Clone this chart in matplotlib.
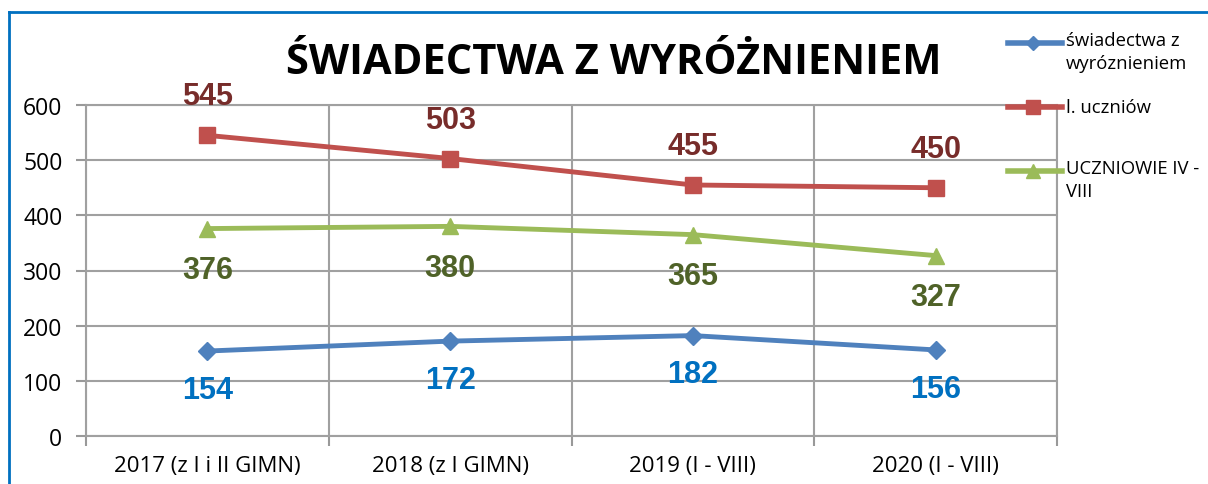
import numpy as np
import matplotlib.pyplot as plt
from matplotlib.lines import Line2D

categories = ['2017 (z I i II GIMN)', '2018 (z I GIMN)', '2019 (I - VIII)', '2020 (I - VIII)']
wyroznienia = [154, 172, 182, 156]
uczniowie = [545, 503, 455, 450]
uczniowie_4_8 = [376, 380, 365, 327]
series_names = ['świadectwa z\nwyróznieniem', 'l. uczniów', 'UCZNIOWIE IV -\nVIII']

BLUE = '#4F81BD'
RED = '#C0504D'
GREEN = '#9BBB59'

fig = plt.figure(figsize=(12.08, 4.85), dpi=100)
ax = fig.add_axes([86 / 1208, 1 - 437 / 485, (1057 - 86) / 1208, (437 - 106) / 485])

x = np.arange(len(categories))
l1, = ax.plot(x, wyroznienia, color=BLUE, lw=3.5, marker='D', ms=9, zorder=3)
l2, = ax.plot(x, uczniowie, color=RED, lw=3.5, marker='s', ms=12, zorder=3)
l3, = ax.plot(x, uczniowie_4_8, color=GREEN, lw=3.5, marker='^', ms=12, zorder=3)

lab_font = dict(family='Liberation Sans', fontweight='bold', fontsize=22)
for i in x:
    ax.annotate(str(uczniowie[i]), (i, uczniowie[i]), xytext=(0, 28), textcoords='offset points',
                ha='center', va='center', color='#772C2A', **lab_font)
    ax.annotate(str(uczniowie_4_8[i]), (i, uczniowie_4_8[i]), xytext=(0, -30), textcoords='offset points',
                ha='center', va='center', color='#4F6228', **lab_font)
    ax.annotate(str(wyroznienia[i]), (i, wyroznienia[i]), xytext=(0, -28), textcoords='offset points',
                ha='center', va='center', color='#0070C0', **lab_font)

ax.set_xlim(-0.5, 3.5)
ax.set_ylim(0, 600)
ax.set_yticks(range(0, 601, 100))
ax.set_xticks(np.arange(-0.5, 3.6, 1.0))
ax.set_xticklabels([])
ax.set_xticks(x, minor=True)
ax.set_xticklabels(categories, minor=True, fontsize=16, family='Open Sans')
ax.tick_params(axis='x', which='minor', length=0, pad=14)
ax.tick_params(axis='x', which='major', length=7, color='#999999', width=1.5, direction='out')
ax.tick_params(axis='y', length=7, color='#999999', width=1.5, labelsize=16.5, pad=10)
for lbl in ax.get_yticklabels():
    lbl.set_family('Open Sans')
ax.grid(True, which='major', color='#A0A0A0', lw=1.5)
for s in ax.spines.values():
    s.set_color('#A0A0A0')
    s.set_linewidth(1.5)

fig.text(614 / 1208, 1 - 63 / 485, 'ŚWIADECTWA Z WYRÓŻNIENIEM', ha='center', va='center',
         fontsize=30, fontweight='bold', family='Open Sans')

# legend drawn by hand on the right side
leg_y = [44, 108, 172]
for line, name, yy in zip([l1, l2, l3], series_names, leg_y):
    yf = 1 - yy / 485
    fig.add_artist(Line2D([1008 / 1208, 1062 / 1208], [yf, yf], color=line.get_color(), lw=4,
                          transform=fig.transFigure))
    fig.add_artist(Line2D([1033 / 1208], [yf], color=line.get_color(), marker=line.get_marker(),
                          ms=line.get_markersize() * 0.8, transform=fig.transFigure))
    if '\n' in name:
        fig.text(1066 / 1208, yf + 12 / 485, name, ha='left', va='top', fontsize=13.3,
                 family='Open Sans', linespacing=1.35)
    else:
        fig.text(1066 / 1208, yf, name, ha='left', va='center', fontsize=13.3, family='Open Sans')

# outer chart frame (left and top edges visible)
fig.add_artist(Line2D([9 / 1208, 9 / 1208], [0, 1 - 13 / 485], color='#0070C0', lw=2,
                      transform=fig.transFigure))
fig.add_artist(Line2D([9 / 1208, 1], [1 - 13 / 485, 1 - 13 / 485], color='#0070C0', lw=2,
                      transform=fig.transFigure))

fig.savefig('out.png', dpi=100)
